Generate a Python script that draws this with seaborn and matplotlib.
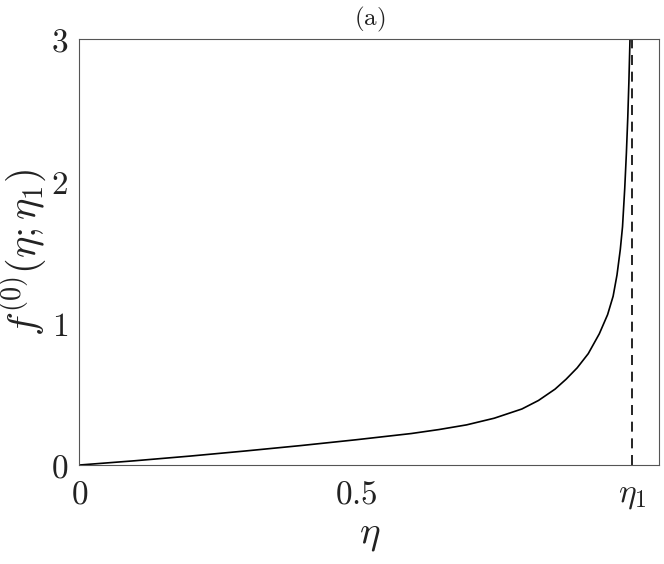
import numpy as np
import pandas as pd
import matplotlib
matplotlib.use("Agg")
import matplotlib.pyplot as plt
import seaborn as sns

# values
eta = [0.0, 0.1, 0.2, 0.3, 0.4, 0.5, 0.6, 0.65, 0.7, 0.75, 0.8, 0.83, 0.86,
       0.88, 0.9, 0.92, 0.94, 0.955, 0.965, 0.972, 0.978, 0.982, 0.986,
       0.989, 0.9915, 0.9935, 0.9955]
f0 = [0.0, 0.03, 0.063, 0.099, 0.137, 0.178, 0.222, 0.25, 0.283, 0.33, 0.395,
      0.455, 0.535, 0.605, 0.685, 0.785, 0.925, 1.06, 1.19, 1.34, 1.52, 1.68,
      1.95, 2.2, 2.45, 2.7, 3.0]
eta1 = 1.0
xticks = [0, 0.5, eta1]
xtick_labels = [r"$0$", r"$0.5$", r"$\eta_1$"]
yticks = [0, 1, 2, 3]

df = pd.DataFrame({"eta": eta, "f0": f0})

sns.set_style("white")
plt.rcParams["mathtext.fontset"] = "cm"
plt.rcParams["font.family"] = ["DejaVu Serif"]

fig = plt.figure(figsize=(6.64, 5.64), dpi=100)
ax = fig.add_axes([0.1197, 0.1755, 0.8728, 0.7545])

sns.lineplot(data=df, x="eta", y="f0", ax=ax, color="black", linewidth=1.2)
ax.plot([eta1, eta1], [0, 3], color="black", linewidth=1.2, linestyle=(0, (6, 4)))

ax.set_xlim(0, 1.048)
ax.set_ylim(0, 3)
ax.set_xticks(xticks)
ax.set_xticklabels(xtick_labels)
ax.set_yticks(yticks)
ax.set_yticklabels([rf"${v}$" for v in yticks])
ax.tick_params(direction="in", length=5, width=0.6, colors="#555555",
               labelcolor="#222222", labelsize=24)
ax.tick_params(axis="x", pad=10)
ax.tick_params(axis="y", pad=8)

for side in ["left", "right", "top", "bottom"]:
    ax.spines[side].set_visible(True)
    ax.spines[side].set_color("#555555")
    ax.spines[side].set_linewidth(0.8)

ax.set_xlabel(r"$\eta$", fontsize=28, color="#222222", labelpad=4)
ax.set_ylabel(r"$f^{(0)}(\eta;\eta_1)$", fontsize=29, color="#222222")
ax.yaxis.set_label_coords(-0.054, 0.5)
ax.set_title(r"$(\mathrm{a})$", fontsize=18, color="#222222", pad=10)

fig.savefig("out.png", dpi=100)
